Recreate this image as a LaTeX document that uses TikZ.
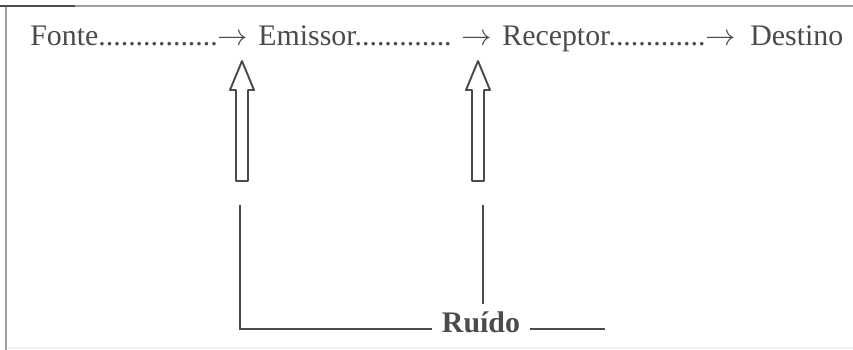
\documentclass[tikz,border=0pt]{standalone}
\usepackage{fontspec}
\setmainfont{Liberation Serif}
\usetikzlibrary{positioning}
\definecolor{ink}{RGB}{75,75,75}
\definecolor{rule}{RGB}{160,160,160}
\tikzset{
  word/.style={anchor=base west, inner sep=0pt, text=ink, font=\fontsize{17}{20}\selectfont},
  hollow/.style={draw=ink, line width=1.1pt, line join=round},
  wire/.style={draw=ink, line width=0.9pt}
}
\begin{document}
\begin{tikzpicture}[x=0.02cm, y=-0.02cm]
      \useasboundingbox (0,0) rectangle (853,350);
      \draw[rule, line width=1.2pt] (0,6) -- (853,6);
      \draw[ink, line width=1.4pt] (0,6) -- (75,6);
      \draw[rule, line width=1.2pt] (6,7) -- (6,350);
      \draw[black!6, line width=1pt] (8,348) -- (853,348);
      \node[word] (fonte) at (30,46) {Fonte................$\rightarrow$};
      \node[word] (emissor) at (258,46) {Emissor............. $\rightarrow$};
      \node[word] (receptor) at (502,46) {Receptor.............$\rightarrow$};
      \node[word] (destino) at (750,46) {Destino};
      \foreach \x in {242,478}
        \draw[hollow] (\x,61) -- (\x+12,90) -- (\x+6,90) -- (\x+6,181)
          -- (\x-6,181) -- (\x-6,90) -- (\x-12,90) -- cycle;
      \coordinate (noiseA) at (240,205);
      \coordinate (noiseB) at (483,205);
      \coordinate (tail) at (605,327);
      \node[anchor=base, text=ink, inner xsep=0.2cm, inner ysep=0.16cm,
        font=\fontsize{17}{20}\selectfont\bfseries] (ruido) at (481,333) {Ruído};
      \draw[wire] (noiseA) |- (ruido.mid west);
      \draw[wire] (noiseB) -- (noiseB |- ruido.north);
      \draw[wire] (ruido.mid east) -- (tail |- ruido.mid east);
\end{tikzpicture}
\end{document}
